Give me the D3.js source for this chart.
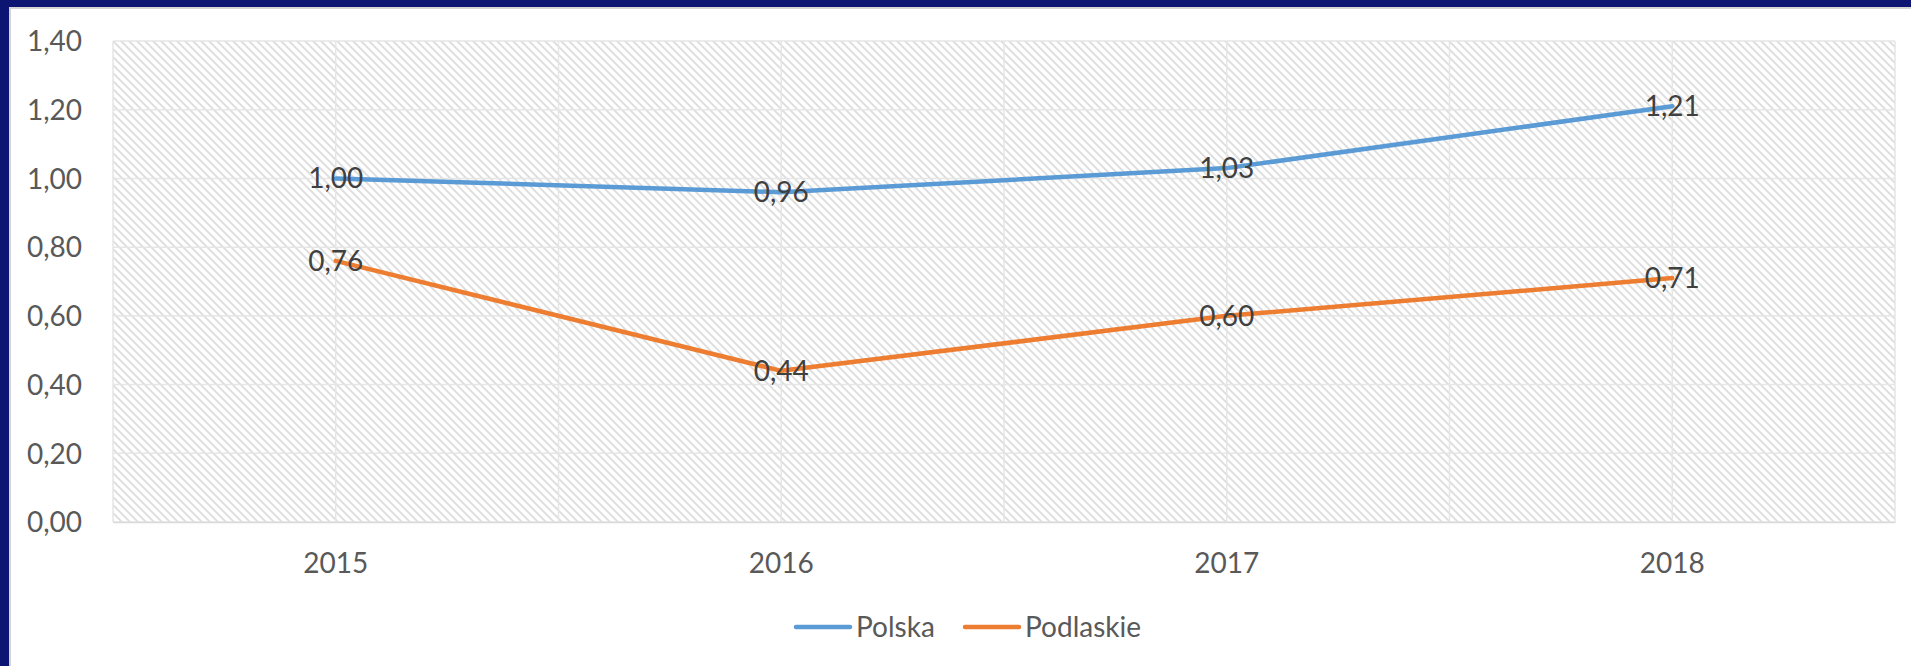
<!DOCTYPE html>
<html>
<head>
	<meta charset="utf-8">
	<title>Polska / Podlaskie</title>
	<style>
		html, body { margin: 0; padding: 0; background: #fff; }
		svg { display: block; font-family: Lato, Carlito, Calibri, sans-serif; }
	</style>
</head>
<body>
	<div id="chart"></div>
	<script src="https://cdn.jsdelivr.net/npm/d3@7/dist/d3.min.js"></script>
	<script>
		const years = ['2015', '2016', '2017', '2018'];
		const polska = [1.00, 0.96, 1.03, 1.21];
		const podlaskie = [0.76, 0.44, 0.60, 0.71];
		const yTicks = [0, 0.2, 0.4, 0.6, 0.8, 1.0, 1.2, 1.4];
		const seriesNames = ['Polska', 'Podlaskie'];
		const colors = ['#5b9bd5', '#ed7d31'];

		const W = 1911, H = 666;
		const plot = { left: 113, right: 1895, top: 41, bottom: 522 };
		const fmt = v => d3.format('.2f')(v).replace('.', ',');

		const svg = d3.select('#chart').append('svg')
			.attr('width', W)
			.attr('height', H);

		// frame: navy band on top and left, thin grey inner line
		svg.append('rect').attr('width', W).attr('height', H).attr('fill', '#0c1572');
		svg.append('rect').attr('x', 9).attr('y', 7).attr('width', W - 9).attr('height', H - 7).attr('fill', '#d4d4d4');
		svg.append('rect').attr('x', 11).attr('y', 9).attr('width', W - 11).attr('height', H - 9).attr('fill', '#fff');

		// hatch fill for plot area
		const pat = svg.append('defs').append('pattern')
			.attr('id', 'hatch')
			.attr('patternUnits', 'userSpaceOnUse')
			.attr('width', 8).attr('height', 8);
		pat.append('rect').attr('width', 8).attr('height', 8).attr('fill', '#fff');
		pat.append('path')
			.attr('d', 'M-2,-2 L10,10 M-2,6 L2,10 M6,-2 L10,2')
			.attr('stroke', '#dcdcdc')
			.attr('stroke-width', 1.8);

		const x = d3.scaleBand().domain(years).range([plot.left, plot.right]);
		const y = d3.scaleLinear().domain([0, 1.4]).range([plot.bottom, plot.top]);
		const cx = d => x(d) + x.bandwidth() / 2;

		svg.append('rect')
			.attr('x', plot.left).attr('y', plot.top)
			.attr('width', plot.right - plot.left).attr('height', plot.bottom - plot.top)
			.attr('fill', 'url(#hatch)');

		// grid
		const grid = svg.append('g').attr('stroke', '#e6e6e6').attr('stroke-width', 1.5);
		grid.selectAll('line.h').data(yTicks).join('line')
			.attr('x1', plot.left).attr('x2', plot.right)
			.attr('y1', d => y(d)).attr('y2', d => y(d));
		const vLines = [];
		years.forEach(d => { vLines.push(x(d)); vLines.push(cx(d)); });
		vLines.push(plot.right);
		grid.selectAll('line.v').data(vLines).join('line')
			.attr('x1', d => d).attr('x2', d => d)
			.attr('y1', plot.top).attr('y2', plot.bottom);

		// axes
		const yAxis = svg.append('g')
			.attr('transform', `translate(${plot.left - 31},0)`)
			.call(d3.axisLeft(y).tickValues(yTicks).tickFormat(fmt).tickSize(0).tickPadding(0));
		yAxis.select('.domain').remove();
		yAxis.selectAll('text')
			.attr('font-family', 'Lato, sans-serif')
			.attr('font-size', 28)
			.attr('fill', '#595959')
			.attr('dy', '0.35em');

		const xAxis = svg.append('g')
			.attr('transform', `translate(0,${plot.bottom})`)
			.call(d3.axisBottom(x).tickSize(0).tickPadding(0));
		xAxis.select('.domain').attr('stroke', '#d9d9d9').attr('stroke-width', 1.5);
		xAxis.selectAll('text')
			.attr('font-family', 'Lato, sans-serif')
			.attr('font-size', 28)
			.attr('fill', '#595959')
			.attr('dy', null)
			.attr('y', 51);

		// lines and labels
		const line = d3.line().x((d, i) => cx(years[i])).y(d => y(d));
		[polska, podlaskie].forEach((vals, s) => {
			svg.append('path')
				.datum(vals)
				.attr('d', line)
				.attr('fill', 'none')
				.attr('stroke', colors[s])
				.attr('stroke-width', 4.5)
				.attr('stroke-linejoin', 'round')
				.attr('stroke-linecap', 'round');
		});
		[polska, podlaskie].forEach((vals, s) => {
			svg.append('g').selectAll('text').data(vals).join('text')
				.attr('x', (d, i) => cx(years[i]))
				.attr('y', d => y(d))
				.attr('dy', '0.35em')
				.attr('text-anchor', 'middle')
				.attr('font-size', 28)
				.attr('fill', '#404040')
				.text(fmt);
		});

		// legend
		const legend = svg.append('g').attr('transform', 'translate(0,627)');
		const legX = [796, 965];
		seriesNames.forEach((name, i) => {
			legend.append('line')
				.attr('x1', legX[i]).attr('x2', legX[i] + 54)
				.attr('stroke', colors[i]).attr('stroke-width', 4.5)
				.attr('stroke-linecap', 'round');
			legend.append('text')
				.attr('x', legX[i] + 60).attr('y', 0)
				.attr('dy', '0.35em')
				.attr('font-size', 28)
				.attr('fill', '#595959')
				.text(name);
		});
	</script>
</body>
</html>
